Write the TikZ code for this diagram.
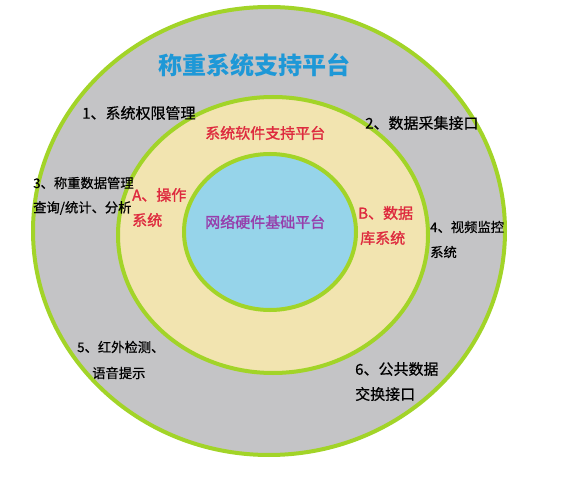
\documentclass[tikz,border=0pt]{standalone}
\usepackage{fontspec}
\setmainfont{Noto Sans CJK SC}
\newfontfamily\medcjk[FakeBold=0.6]{Noto Sans CJK SC}
\newfontfamily\semicjk[FakeBold=1.4]{Noto Sans CJK SC}
\usetikzlibrary{positioning}

\definecolor{ringgreen}{RGB}{162,212,40}
\definecolor{ringgray}{RGB}{196,196,198}
\definecolor{ringcream}{RGB}{242,228,176}
\definecolor{hubblue}{RGB}{150,212,234}
\definecolor{titleblue}{RGB}{30,152,215}
\definecolor{labelred}{RGB}{222,42,62}
\definecolor{hubpurple}{RGB}{150,62,172}

\tikzset{
  ring/.style={draw=ringgreen,line width=4pt},
  txt/.style={anchor=west,inner sep=0pt},
  item/.style={txt,font=\fontsize{15}{17}\medcjk},
  itemsmall/.style={txt,font=\fontsize{13.3}{15}\medcjk},
  redtxt/.style={txt,text=labelred,font=\fontsize{15}{17}\semicjk}
}

\begin{document}
\begin{tikzpicture}[x=1pt,y=-1pt]
        \useasboundingbox (0,0) rectangle (568,481);
        \fill[white] (0,0) rectangle (568,481);

        % rings
        \draw[ring,fill=ringgray] (269,231) ellipse [x radius=236,y radius=224];
        \draw[ring,fill=ringcream] (273,235) ellipse [x radius=155,y radius=138];
        \draw[ring,fill=hubblue] (270,232) ellipse [x radius=86,y radius=78];

        \node[txt,text=titleblue,font=\fontsize{24}{28}\selectfont\bfseries] (title) at (158,65) {称重系统支持平台};

        \node[item] (perm) at (82,113) {1、系统权限管理};
        \node[item] (collect) at (365,123) {2、数据采集接口};
        \node[itemsmall] (weighA) at (33,183) {3、称重数据管理};
        \node[itemsmall] (weighB) at (33,208) {查询/统计、分析};
        \node[itemsmall] (videoA) at (430,227) {4、视频监控};
        \node[itemsmall] (videoB) at (430,252) {系统};
        \node[itemsmall] (infraA) at (77,347) {5、红外检测、};
        \node[itemsmall] (infraB) at (92,373) {语音提示};
        \node[item] (exchA) at (355,369) {6、公共数据};
        \node[item] (exchB) at (355,394) {交换接口};

        \node[redtxt] (soft) at (205,133) {系统软件支持平台};
        \node[redtxt] (osA) at (132,195) {A、操作};
        \node[redtxt] (osB) at (132,220) {系统};
        \node[redtxt] (dbA) at (358,213) {B、数据};
        \node[redtxt] (dbB) at (360,238) {库系统};

        \node[txt,text=hubpurple,font=\fontsize{15}{17}\semicjk] (hub) at (205,222) {网络硬件基础平台};
\end{tikzpicture}
\end{document}
